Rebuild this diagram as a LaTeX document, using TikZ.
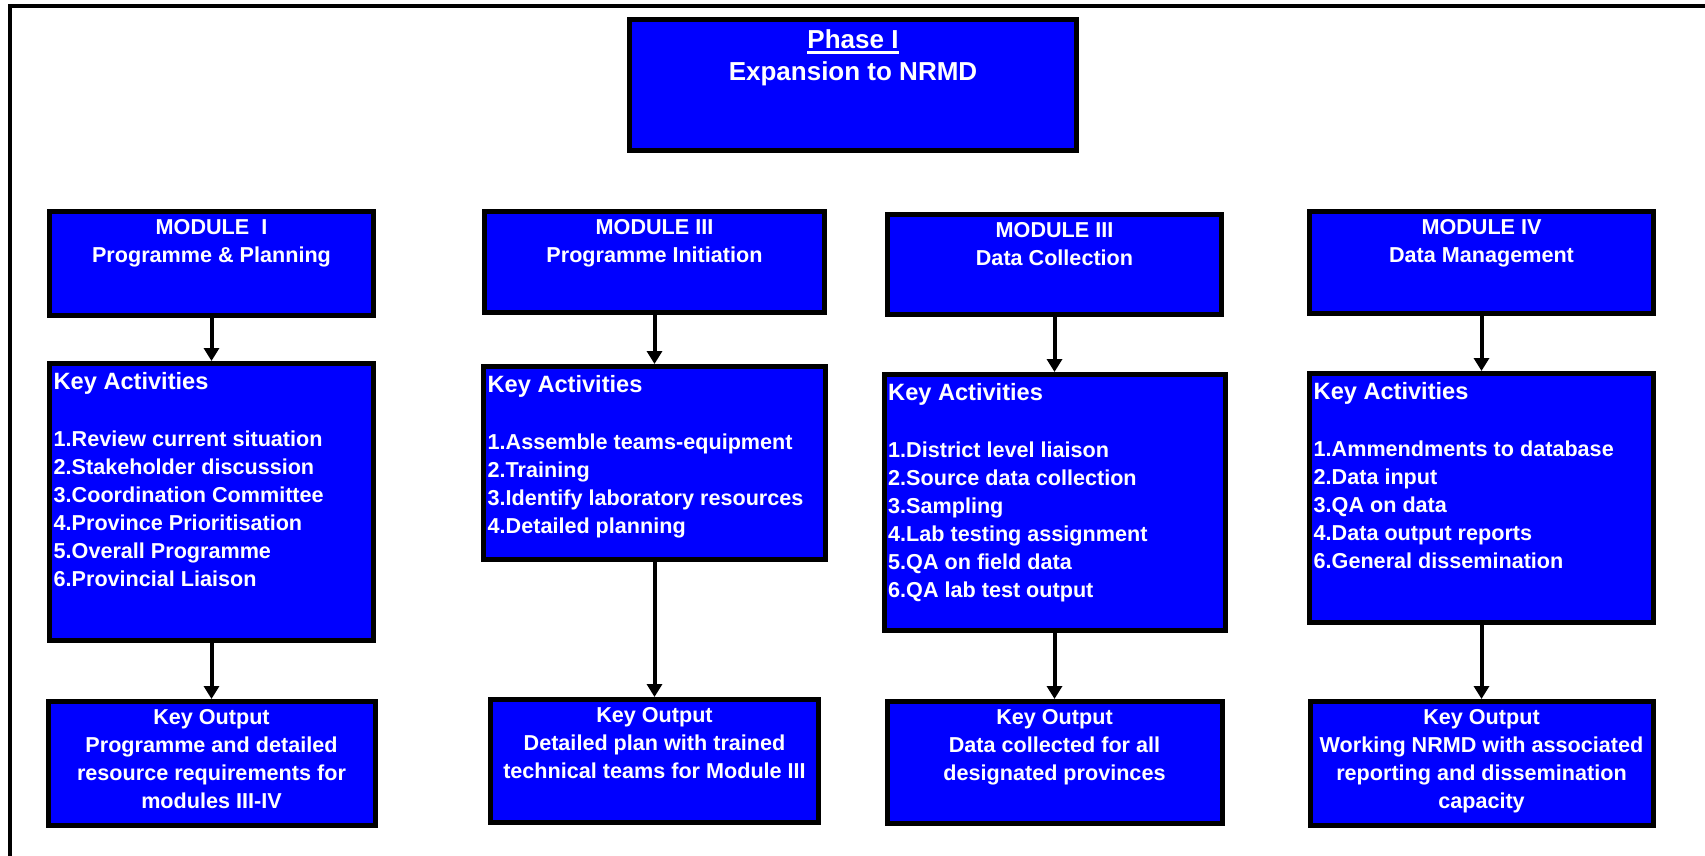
\documentclass[tikz,border=0pt]{standalone}
\usepackage{fontspec}
\setmainfont{Liberation Sans}
\usetikzlibrary{positioning, arrows.meta}
\newcommand{\ulbar}[1]{\setbox0\hbox{#1}\rlap{\rule[-5.5pt]{\wd0}{2.5pt}}\box0}
\tikzstyle{panel}=[draw=black, fill=blue, rectangle, line width=5pt, inner sep=0pt]
\tikzstyle{paneltext}=[text=white, inner sep=0pt, align=center,
font=\bfseries\fontsize{21.6}{28}\selectfont]
\tikzstyle{listtext}=[text=white, inner sep=0pt, align=left,
font=\bfseries\fontsize{21.6}{28}\selectfont]
\tikzstyle{link}=[draw, line width=4pt, ->]

\begin{document}
\begin{tikzpicture}[x=1pt, y=-1pt, >={Triangle[width=15pt, length=13pt]}]
		\useasboundingbox (0,0) rectangle (1705,856);
		\draw[line width=4pt] (10,856) -- (10,6) -- (1705,6);
		% fase
		\node[panel, minimum width=447pt, minimum height=131pt] (phase) at (853,85) {};
		\node[paneltext, font=\bfseries\fontsize{26}{32}\selectfont, below=12pt of phase.north] (phasetxt) {\ulbar{Phase I}\\Expansion to NRMD};
		% modulos
		\node[panel, minimum width=324pt, minimum height=104pt] (mod1) at (211.5,263.5) {};
		\node[panel, minimum width=340pt, minimum height=101pt] (mod2) at (654.5,262) {};
		\node[panel, minimum width=334pt, minimum height=100pt] (mod3) at (1054.5,264.5) {};
		\node[panel, minimum width=344pt, minimum height=102pt] (mod4) at (1481.5,262.5) {};
		\node[paneltext, below=10.5pt of mod1.north] (mod1txt) {MODULE~~I\\Programme \& Planning};
		\node[paneltext, below=10.5pt of mod2.north] (mod2txt) {MODULE III\\Programme Initiation};
		\node[paneltext, below=10.5pt of mod3.north] (mod3txt) {MODULE III\\Data Collection};
		\node[paneltext, below=10.5pt of mod4.north] (mod4txt) {MODULE IV\\Data Management};
		% actividades
		\node[panel, below of=mod1, node distance=238.5pt, minimum width=324pt, minimum height=277pt] (act1) {};
		\node[panel, below of=mod2, node distance=201pt, minimum width=342pt, minimum height=193pt] (act2) {};
		\node[panel, below of=mod3, node distance=238pt, minimum width=341pt, minimum height=256pt] (act3) {};
		\node[panel, below of=mod4, node distance=235.5pt, minimum width=344pt, minimum height=249pt] (act4) {};
		\node[listtext, below right=11pt and 6.5pt of act1.north west] (act1txt) {{\fontsize{23.6}{28}\selectfont Key Activities}\\[29pt]
			1.Review current situation\\2.Stakeholder discussion\\3.Coordination Committee\\
			4.Province Prioritisation\\5.Overall Programme\\6.Provincial Liaison};
		\node[listtext, below right=11pt and 6.5pt of act2.north west] (act2txt) {{\fontsize{23.6}{28}\selectfont Key Activities}\\[29pt]
			1.Assemble teams-equipment\\2.Training\\3.Identify laboratory resources\\4.Detailed planning};
		\node[listtext, below right=11pt and 6.5pt of act3.north west] (act3txt) {{\fontsize{23.6}{28}\selectfont Key Activities}\\[29pt]
			1.District level liaison\\2.Source data collection\\3.Sampling\\4.Lab testing assignment\\
			5.QA on field data\\6.QA lab test output};
		\node[listtext, below right=11pt and 6.5pt of act4.north west] (act4txt) {{\fontsize{23.6}{28}\selectfont Key Activities}\\[29pt]
			1.Ammendments to database\\2.Data input\\3.QA on data\\4.Data output reports\\6.General dissemination};
		% resultados
		\node[panel, below of=act1, node distance=261.5pt, minimum width=327pt, minimum height=124pt] (out1) {};
		\node[panel, below of=act2, node distance=298pt, minimum width=328pt, minimum height=123pt] (out2) {};
		\node[panel, below of=act3, node distance=260pt, minimum width=335pt, minimum height=122pt] (out3) {};
		\node[panel, below of=act4, node distance=265.5pt, minimum width=343pt, minimum height=124pt] (out4) {};
		\node[paneltext, below=10pt of out1.north] (out1txt) {Key Output\\Programme and detailed\\resource requirements for\\modules III-IV};
		\node[paneltext, below=10pt of out2.north] (out2txt) {Key Output\\Detailed plan with trained\\technical teams for Module III};
		\node[paneltext, below=10pt of out3.north] (out3txt) {Key Output\\Data collected for all\\designated provinces};
		\node[paneltext, below=10pt of out4.north] (out4txt) {Key Output\\Working NRMD with associated\\reporting and dissemination\\capacity};
		% flechas
		\draw[link] (mod1) -- (act1);
		\draw[link] (mod2) -- (act2);
		\draw[link] (mod3) -- (act3);
		\draw[link] (mod4) -- (act4);
		\draw[link] (act1) -- (out1);
		\draw[link] (act2) -- (out2);
		\draw[link] (act3) -- (out3);
		\draw[link] (act4) -- (out4);
	\end{tikzpicture}
\end{document}
